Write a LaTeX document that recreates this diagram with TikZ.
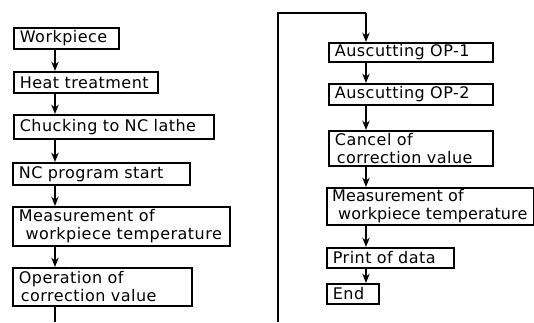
\documentclass[tikz,border=0pt]{standalone}
\usepackage{fontspec}
\setmainfont[LetterSpace=3,WordSpace=1.3]{DejaVu Sans}
\usetikzlibrary{arrows.meta}
\tikzset{
  box/.style={draw, line width=1.3pt, anchor=north west, inner xsep=4.5pt, inner ysep=0pt,
    align=left, font=\fontsize{12}{13.5}\selectfont},
  arr/.style={line width=1.2pt, -{Stealth[length=7pt,width=5.5pt]}},
  ln/.style={line width=1.2pt}
}
\begin{document}
\begin{tikzpicture}[x=0.75pt,y=-0.75pt]
\useasboundingbox (0,0) rectangle (534,322);
% left column
\node[box, text width=69.75pt, minimum height=15.75pt] (a1) at (13,27) {\mbox{Workpiece}};
\node[box, text width=99pt, minimum height=15.75pt] (a2) at (13,71) {\mbox{Heat treatment}};
\node[box, text width=141pt, minimum height=18pt] (a3) at (13,114) {\mbox{Chucking to NC lathe}};
\node[box, text width=123.75pt, minimum height=16.5pt] (a4) at (12,162) {\mbox{NC program start}};
\node[box, text width=153.75pt, minimum height=29.25pt] (a5) at (12,206) {\mbox{Measurement of}\\\mbox{\hspace*{5pt}workpiece temperature}};
\node[box, text width=125.25pt, minimum height=28.5pt] (a6) at (12,267) {\mbox{Operation of}\\\mbox{\hspace*{1.5pt}correction value}};
\coordinate (L) at (55,0);
\coordinate (Lend) at (55,322);
\draw[arr] (a1.south -| L) -- (a2.north -| L);
\draw[arr] (a2.south -| L) -- (a3.north -| L);
\draw[arr] (a3.south -| L) -- (a4.north -| L);
\draw[arr] (a4.south -| L) -- (a5.north -| L);
\draw[arr] (a5.south -| L) -- (a6.north -| L);
\draw[ln] (a6.south -| L) -- (Lend);
% right column
\node[box, text width=114pt, minimum height=14.25pt] (b1) at (328,42) {\mbox{Auscutting OP-1}};
\node[box, text width=114pt, minimum height=15.75pt] (b2) at (328,83) {\mbox{Auscutting OP-2}};
\node[box, text width=114pt, minimum height=26.25pt] (b3) at (328,130) {\mbox{Cancel of}\\\mbox{\hspace*{1.5pt}correction value}};
\node[box, inner xsep=4pt, text width=147.25pt, minimum height=27.75pt] (b4) at (326,187) {\addfontfeature{LetterSpace=0.5}\mbox{Measurement of}\\\mbox{\hspace*{4.5pt}workpiece temperature}};
\node[box, text width=86.25pt, minimum height=15pt] (b5) at (326,247) {\mbox{Print of data}};
\node[box, text width=30pt, minimum height=15pt] (b6) at (326,283) {\mbox{End}};
\coordinate (R) at (366,0);
\coordinate (Rbot) at (278,322);
\coordinate (Rtop) at (278,13);
\coordinate (Rcor) at (366,13);
\draw[ln] (Rbot) -- (Rtop) -- (Rcor);
\draw[arr] (Rcor) -- (b1.north -| R);
\draw[arr] (b1.south -| R) -- (b2.north -| R);
\draw[arr] (b2.south -| R) -- (b3.north -| R);
\draw[arr] (b3.south -| R) -- (b4.north -| R);
\draw[arr] (b4.south -| R) -- (b5.north -| R);
\draw[arr] (b5.south -| R) -- (b6.north -| R);
\end{tikzpicture}
\end{document}
